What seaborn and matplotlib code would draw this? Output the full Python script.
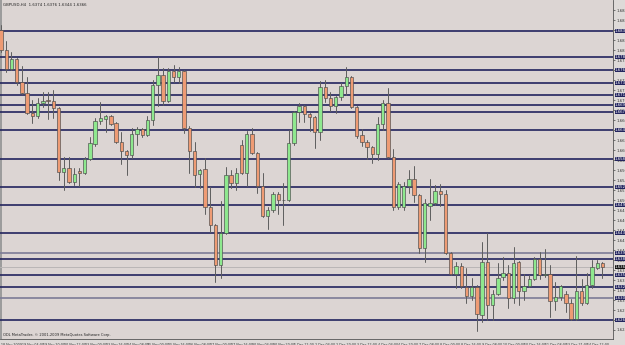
import numpy as np
import pandas as pd
import matplotlib
matplotlib.use("Agg")
import matplotlib.pyplot as plt
import matplotlib.transforms as mtransforms
from matplotlib.patches import Rectangle
import seaborn as sns

# ---------------- data (GBPUSD, H4) ----------------
open_ = [1.6840, 1.6800, 1.6762, 1.6782, 1.6736, 1.6714, 1.6674, 1.6668, 1.6694, 1.6700,
         1.6698, 1.6684, 1.6556, 1.6564, 1.6536, 1.6558, 1.6554, 1.6582, 1.6612, 1.6658,
         1.6662, 1.6668, 1.6654, 1.6616, 1.6598, 1.6590, 1.6632, 1.6642, 1.6630, 1.6660,
         1.6730, 1.6750, 1.6698, 1.6758, 1.6746, 1.6758, 1.6644, 1.6598, 1.6552, 1.6562,
         1.6486, 1.6450, 1.6370, 1.6434, 1.6550, 1.6534, 1.6610, 1.6554, 1.6632, 1.6594,
         1.6528, 1.6468, 1.6480, 1.6512, 1.6500, 1.6500, 1.6614, 1.6676, 1.6688, 1.6672,
         1.6666, 1.6636, 1.6726, 1.6704, 1.6688, 1.6706, 1.6728, 1.6746, 1.6686, 1.6630,
         1.6616, 1.6606, 1.6592, 1.6652, 1.6694, 1.6586, 1.6486, 1.6486, 1.6528, 1.6542,
         1.6510, 1.6404, 1.6488, 1.6494, 1.6518, 1.6512, 1.6394, 1.6352, 1.6368, 1.6326,
         1.6308, 1.6326, 1.6270, 1.6376, 1.6290, 1.6312, 1.6346, 1.6354, 1.6304, 1.6376,
         1.6318, 1.6328, 1.6342, 1.6382, 1.6350, 1.6352, 1.6298, 1.6306, 1.6312, 1.6294,
         1.6262, 1.6318, 1.6294, 1.6330, 1.6364, 1.6374]
high = [1.6850, 1.6818, 1.6796, 1.6784, 1.6768, 1.6746, 1.6700, 1.6704, 1.6716, 1.6716,
        1.6720, 1.6686, 1.6586, 1.6586, 1.6564, 1.6564, 1.6586, 1.6626, 1.6664, 1.6696,
        1.6670, 1.6670, 1.6656, 1.6636, 1.6600, 1.6644, 1.6646, 1.6644, 1.6668, 1.6740,
        1.6786, 1.6764, 1.6764, 1.6770, 1.6766, 1.6760, 1.6648, 1.6616, 1.6562, 1.6584,
        1.6526, 1.6452, 1.6498, 1.6566, 1.6560, 1.6564, 1.6620, 1.6638, 1.6644, 1.6596,
        1.6554, 1.6486, 1.6516, 1.6516, 1.6534, 1.6640, 1.6678, 1.6694, 1.6690, 1.6674,
        1.6668, 1.6738, 1.6740, 1.6716, 1.6708, 1.6734, 1.6766, 1.6748, 1.6688, 1.6642,
        1.6620, 1.6608, 1.6666, 1.6700, 1.6724, 1.6602, 1.6536, 1.6536, 1.6560, 1.6568,
        1.6512, 1.6502, 1.6542, 1.6530, 1.6532, 1.6520, 1.6396, 1.6376, 1.6374, 1.6364,
        1.6344, 1.6330, 1.6416, 1.6434, 1.6320, 1.6374, 1.6386, 1.6370, 1.6406, 1.6378,
        1.6352, 1.6350, 1.6386, 1.6396, 1.6402, 1.6370, 1.6336, 1.6330, 1.6318, 1.6302,
        1.6388, 1.6342, 1.6354, 1.6380, 1.6380, 1.6376]
low = [1.6796, 1.6756, 1.6760, 1.6730, 1.6712, 1.6672, 1.6654, 1.6664, 1.6686, 1.6662,
       1.6664, 1.6540, 1.6520, 1.6534, 1.6530, 1.6528, 1.6552, 1.6580, 1.6608, 1.6652,
       1.6636, 1.6650, 1.6614, 1.6572, 1.6550, 1.6584, 1.6610, 1.6626, 1.6628, 1.6650,
       1.6688, 1.6690, 1.6696, 1.6736, 1.6734, 1.6634, 1.6554, 1.6526, 1.6524, 1.6472,
       1.6436, 1.6336, 1.6344, 1.6432, 1.6524, 1.6520, 1.6552, 1.6528, 1.6592, 1.6514,
       1.6466, 1.6442, 1.6476, 1.6472, 1.6450, 1.6498, 1.6610, 1.6656, 1.6656, 1.6638,
       1.6604, 1.6620, 1.6696, 1.6678, 1.6674, 1.6700, 1.6710, 1.6684, 1.6624, 1.6608,
       1.6582, 1.6574, 1.6580, 1.6640, 1.6584, 1.6480, 1.6482, 1.6480, 1.6514, 1.6496,
       1.6394, 1.6376, 1.6460, 1.6490, 1.6488, 1.6392, 1.6350, 1.6324, 1.6324, 1.6294,
       1.6300, 1.6238, 1.6256, 1.6260, 1.6260, 1.6310, 1.6340, 1.6284, 1.6294, 1.6290,
       1.6300, 1.6326, 1.6340, 1.6342, 1.6346, 1.6266, 1.6280, 1.6300, 1.6276, 1.6260,
       1.6260, 1.6290, 1.6292, 1.6324, 1.6362, 1.6344]
close = [1.6800, 1.6762, 1.6782, 1.6736, 1.6714, 1.6674, 1.6668, 1.6694, 1.6698, 1.6698,
         1.6684, 1.6556, 1.6564, 1.6536, 1.6552, 1.6554, 1.6582, 1.6614, 1.6658, 1.6664,
         1.6668, 1.6652, 1.6616, 1.6598, 1.6590, 1.6632, 1.6642, 1.6630, 1.6660, 1.6730,
         1.6750, 1.6698, 1.6758, 1.6746, 1.6758, 1.6644, 1.6598, 1.6550, 1.6560, 1.6486,
         1.6450, 1.6370, 1.6434, 1.6550, 1.6534, 1.6554, 1.6554, 1.6632, 1.6594, 1.6528,
         1.6468, 1.6480, 1.6512, 1.6500, 1.6500, 1.6614, 1.6676, 1.6688, 1.6672, 1.6666,
         1.6636, 1.6726, 1.6704, 1.6688, 1.6706, 1.6728, 1.6746, 1.6686, 1.6628, 1.6616,
         1.6606, 1.6592, 1.6652, 1.6694, 1.6586, 1.6486, 1.6532, 1.6528, 1.6542, 1.6510,
         1.6404, 1.6494, 1.6494, 1.6518, 1.6512, 1.6394, 1.6352, 1.6368, 1.6328, 1.6308,
         1.6326, 1.6272, 1.6376, 1.6290, 1.6312, 1.6344, 1.6354, 1.6304, 1.6374, 1.6318,
         1.6328, 1.6342, 1.6382, 1.6350, 1.6352, 1.6298, 1.6306, 1.6328, 1.6294, 1.6262,
         1.6318, 1.6294, 1.6330, 1.6366, 1.6374, 1.6366]

time_labels = ["18 Nov 2009", "19 Nov 04:00", "19 Nov 20:00", "20 Nov 12:00", "23 Nov 00:00",
               "23 Nov 16:00", "24 Nov 08:00", "25 Nov 00:00", "25 Nov 16:00", "26 Nov 08:00",
               "27 Nov 00:00", "27 Nov 16:00", "30 Nov 04:00", "30 Nov 20:00", "1 Dec 12:00",
               "2 Dec 04:00", "2 Dec 20:00", "3 Dec 12:00", "4 Dec 04:00", "4 Dec 20:00",
               "7 Dec 08:00", "8 Dec 00:00", "8 Dec 16:00", "9 Dec 08:00", "10 Dec 00:00",
               "10 Dec 16:00", "11 Dec 08:00", "13 Dec 21:00", "14 Dec 12:00"]

line_levels = [1.6838, 1.6786, 1.6760, 1.6734, 1.6710, 1.6690, 1.6676, 1.6640, 1.6582,
               1.6526, 1.6490, 1.6434, 1.6382, 1.6350, 1.6326, 1.6260]
grey_levels = [1.6394, 1.6304]
bid_level = 1.6366
symbol = "GBPUSD,H4"
copyright_text = "ODL MetaTrader, \u00a9 2001-2009 MetaQuotes Software Corp."

# ---------------- style ----------------
sns.set_theme(style="white")
plt.rcParams["font.family"] = ["DejaVu Sans"]

BG = "#DCD5D3"
NAVY = "#23245E"
BULL = "#8EE88E"
BEAR = "#EE9B74"
EDGE = "#4A4A4A"

n = len(close)
df = pd.DataFrame({"i": np.arange(n), "open": open_, "high": high,
                   "low": low, "close": close})
df["bull"] = df["close"] >= df["open"]
df["bottom"] = df[["open", "close"]].min(axis=1)
df["h"] = (df["close"] - df["open"]).abs()

fig = plt.figure(figsize=(6.25, 3.45), dpi=100, facecolor="#DEDAD8")
ax = fig.add_axes([0, 6 / 345, 613 / 625, 339 / 345])
ax.set_facecolor(BG)

# window border strip at the left edge (under the candles)
ax.add_patch(Rectangle((0, 0), 2.2 / 613, 1, transform=ax.transAxes,
                       color="#9C9C9C", zorder=0.5, lw=0))

# horizontal levels
for lv in line_levels:
    ax.axhline(lv, color=NAVY, lw=1.2, zorder=1)
for lv in grey_levels:
    ax.axhline(lv, color="#7C7C96", lw=1.2, zorder=1)
ax.axhline(bid_level, color="#B9B6B6", lw=0.7, zorder=1)

# wicks
wick = pd.DataFrame({"i": np.repeat(df["i"].to_numpy(), 2),
                     "p": np.column_stack([df["low"], df["high"]]).ravel(),
                     "u": np.repeat(df["i"].to_numpy(), 2)})
sns.lineplot(data=wick, x="i", y="p", units="u", estimator=None, color="#5E5E5E",
             lw=0.7, ax=ax, legend=False, zorder=2)

# bodies
for is_bull, col in [(True, BULL), (False, BEAR)]:
    d = df[df["bull"] == is_bull].sort_values("i")
    sns.barplot(data=d, x="i", y="h", bottom=d["bottom"].to_numpy(), native_scale=True,
                width=0.64, color=col, saturation=1, edgecolor=EDGE, linewidth=0.45,
                errorbar=None, ax=ax, zorder=3)

ax.set_xlim(-1 / 5.23, 612 / 5.23)
ax.set_ylim(1.6900 - 0.0002 * 339, 1.6900)
ax.set_xlabel("")
ax.set_ylabel("")

# price axis on the right
ax.yaxis.tick_right()
yt = np.round(np.arange(1.6240, 1.68801, 0.0020), 4)
ax.set_yticks(yt)
ax.set_yticklabels([f"{v:.4f}" for v in yt], fontsize=2.8, color="#333333")
ax.tick_params(axis="y", length=1.5, width=0.5, pad=1, colors="#444444", labelcolor="#333333")

trans = mtransforms.blended_transform_factory(ax.transAxes, ax.transData)
for lv in line_levels + grey_levels:
    ax.text(1.0 + 2 / 613, lv, f"{lv:.4f}", transform=trans, fontsize=2.8, color="white",
            va="center", ha="left", clip_on=False, zorder=6,
            bbox=dict(boxstyle="square,pad=0.12", fc=NAVY, ec="none"))
ax.text(1.0 + 2 / 613, bid_level, f"{bid_level:.4f}", transform=trans, fontsize=2.8,
        color="white", va="center", ha="left", clip_on=False, zorder=6,
        bbox=dict(boxstyle="square,pad=0.12", fc="#111111", ec="none"))

# time axis
ax.set_xticks(np.arange(0, n, 4))
ax.set_xticklabels(time_labels, fontsize=2.3, ha="left", color="#333333")
ax.tick_params(axis="x", length=2.5, width=0.5, pad=0.6, colors="#444444", labelcolor="#333333")

for s in ["top", "left"]:
    ax.spines[s].set_visible(False)
for s in ["right", "bottom"]:
    ax.spines[s].set_color("#555555")
    ax.spines[s].set_linewidth(0.6)

header = f"{symbol}  {open_[-1]:.4f} {high[-1]:.4f} {low[-1]:.4f} {close[-1]:.4f}"
ax.text(3 / 613, 1 - 5 / 339, header, transform=ax.transAxes, fontsize=2.8,
        va="center", ha="left", color="#222222", zorder=7)
ax.text(3 / 613, 4 / 339, copyright_text, transform=ax.transAxes, fontsize=2.6,
        va="center", ha="left", color="#222222", zorder=7)

fig.savefig("out.png", dpi=100, facecolor=fig.get_facecolor())
